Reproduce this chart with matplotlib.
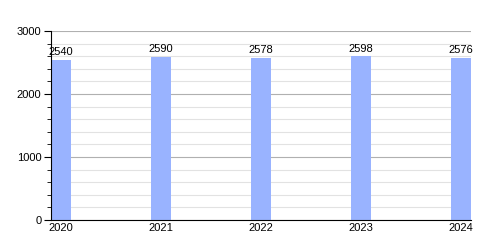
import matplotlib.pyplot as plt
from matplotlib.ticker import MultipleLocator

years = [2020, 2021, 2022, 2023, 2024]
values = [2540, 2590, 2578, 2598, 2576]

plt.rcParams["font.family"] = ["Liberation Sans", "DejaVu Sans"]

fig = plt.figure(figsize=(5, 2.5), dpi=100)
ax = fig.add_axes([0.102, 0.12, 0.84, 0.756])

ax.bar(years, values, width=0.2, color="#99b3ff", zorder=2)
for x, v in zip(years, values):
    ax.text(x, v + 40, str(v), ha="center", va="bottom", fontsize=8)

ax.set_xlim(2019.9, 2024.1)
ax.set_ylim(0, 3000)
ax.set_xticks(years)
ax.set_xticklabels([str(y) for y in years])
ax.yaxis.set_major_locator(MultipleLocator(1000))
ax.yaxis.set_minor_locator(MultipleLocator(200))
ax.grid(axis="y", which="major", color="#b0b0b0", linewidth=0.8, zorder=0)
ax.grid(axis="y", which="minor", color="#e2e2e2", linewidth=0.8, zorder=0)

for s in ["top", "right"]:
    ax.spines[s].set_visible(False)
ax.tick_params(axis="y", which="major", length=5, labelsize=8, pad=2)
ax.tick_params(axis="y", which="minor", length=3)
ax.tick_params(axis="x", length=0, labelsize=8, pad=2)

fig.savefig("out.png")
